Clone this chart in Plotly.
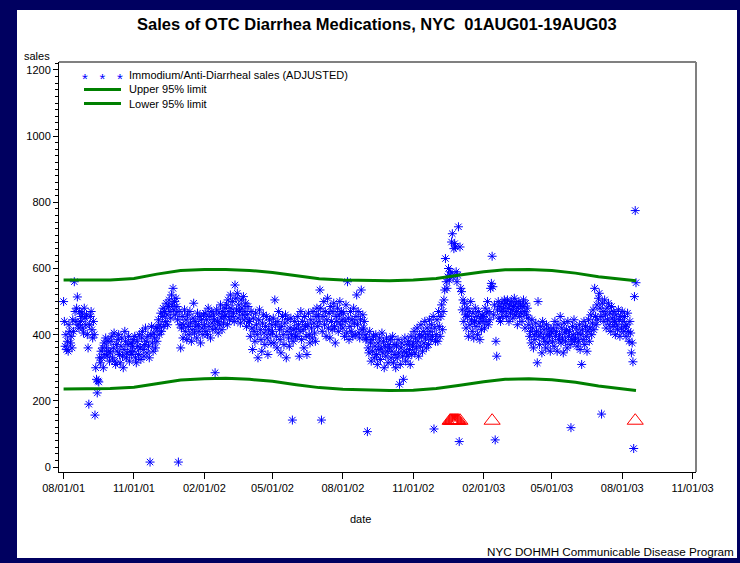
import pandas as pd
import plotly.graph_objects as go

# ---------------- data (daily adjusted sales) ----------------
aug01 = [500, 440, 365, 400, 355, 380, 350, 430, 410, 375, 395, 360, 445, 410, 560, 470, 440, 480, 514, 430, 420, 470, 440, 455, 465, 420, 405, 480, 450, 430, 460]
sep01 = [400, 360, 190, 430, 455, 470, 415, 390, 440, 400, 157, 300, 265, 224, 260, 257, 330, 315, 350, 330, 360, 300, 375, 340, 390, 360, 335, 380, 350, 320]
oct01 = [345, 380, 395, 330, 360, 405, 320, 310, 370, 350, 385, 400, 340, 315, 365, 390, 335, 300, 355, 410, 380, 330, 345, 370, 395, 320, 350, 375, 340, 365, 385]
nov01 = [350, 395, 330, 315, 380, 365, 340, 400, 360, 325, 390, 410, 355, 335, 370, 420, 380, 345, 395, 365, 330, 15, 400, 425, 375, 350, 405, 390, 360, 420]
dec01 = [380, 420, 445, 400, 430, 465, 410, 455, 480, 425, 470, 440, 495, 460, 430, 485, 505, 470, 450, 520, 490, 540, 475, 500, 460, 510, 485, 445, 15, 470, 430]
jan02 = [360, 420, 455, 390, 430, 475, 410, 445, 385, 460, 425, 400, 470, 435, 380, 415, 450, 495, 405, 440, 425, 390, 465, 430, 410, 455, 375, 445, 420, 400, 460]
feb02 = [430, 465, 410, 445, 400, 480, 425, 455, 390, 470, 435, 415, 460, 445, 285, 420, 475, 440, 405, 465, 430, 490, 450, 415, 470, 435, 455, 480]
mar02 = [460, 490, 430, 505, 470, 445, 520, 480, 455, 500, 465, 440, 550, 510, 475, 525, 450, 490, 470, 435, 505, 480, 460, 515, 445, 470, 495, 425, 460, 485, 440]
apr02 = [440, 395, 470, 420, 355, 450, 410, 380, 465, 430, 400, 330, 445, 475, 415, 385, 350, 435, 460, 405, 370, 425, 455, 390, 340, 415, 445, 400, 375, 430]
may02 = [410, 450, 375, 505, 430, 395, 360, 440, 470, 415, 385, 345, 425, 455, 400, 370, 435, 460, 330, 410, 445, 390, 365, 420, 450, 400, 142, 380, 415, 440, 395]
jun02 = [420, 395, 455, 430, 335, 410, 470, 385, 440, 415, 360, 455, 425, 395, 340, 430, 465, 400, 375, 445, 420, 390, 470, 435, 405, 380, 455, 480, 425, 460]
jul02 = [440, 535, 480, 142, 410, 455, 500, 430, 470, 395, 445, 510, 420, 465, 390, 485, 440, 415, 470, 495, 425, 375, 455, 440, 480, 410, 460, 500, 430, 470, 445]
aug02 = [420, 465, 395, 440, 490, 405, 560, 450, 385, 425, 470, 410, 445, 395, 480, 435, 400, 455, 520, 430, 470, 405, 390, 445, 535, 415, 460, 420, 440, 400, 385]
sep02 = [390, 107, 360, 345, 410, 375, 320, 385, 350, 395, 330, 365, 400, 340, 310, 375, 355, 390, 325, 360, 405, 345, 380, 300, 365, 335, 390, 350, 315, 370]
oct02 = [360, 385, 330, 350, 395, 315, 370, 340, 300, 365, 330, 385, 345, 250, 310, 360, 375, 335, 265, 350, 390, 320, 345, 370, 335, 380, 355, 310, 395, 340, 365]
nov02 = [375, 410, 345, 390, 360, 420, 380, 335, 400, 365, 430, 395, 350, 410, 375, 440, 390, 360, 420, 400, 370, 445, 410, 385, 430, 395, 455, 115, 420, 380]
dec02 = [400, 445, 380, 470, 425, 395, 455, 490, 415, 470, 505, 535, 630, 560, 540, 575, 600, 565, 580, 590, 680, 705, 575, 660, 675, 665, 590, 560, 580, 726, 77]
jan03 = [665, 540, 530, 475, 505, 440, 495, 460, 420, 480, 455, 395, 470, 430, 500, 445, 410, 465, 390, 440, 480, 425, 455, 400, 470, 435, 385, 450, 415, 460, 440]
feb03 = [455, 420, 480, 440, 465, 500, 430, 470, 445, 540, 555, 637, 545, 460, 490, 82, 380, 335, 475, 500, 450, 485, 440, 470, 495, 455, 480, 505]
mar03 = [470, 495, 455, 505, 480, 440, 490, 465, 500, 475, 450, 485, 510, 460, 495, 470, 430, 480, 500, 455, 490, 465, 440, 485, 505, 470, 420, 495, 460, 480, 450]
apr03 = [430, 395, 410, 375, 445, 420, 360, 400, 385, 435, 410, 315, 500, 395, 370, 425, 405, 345, 440, 390, 415, 380, 360, 430, 400, 375, 420, 395, 350, 410]
may03 = [405, 380, 420, 365, 440, 395, 410, 350, 430, 385, 400, 455, 375, 420, 390, 345, 435, 405, 380, 415, 360, 440, 395, 410, 370, 119, 385, 425, 400, 445, 380]
jun03 = [390, 420, 365, 405, 380, 430, 355, 400, 310, 415, 385, 440, 370, 425, 395, 350, 410, 445, 380, 420, 460, 400, 435, 475, 415, 540, 455, 430, 490, 445]
jul03 = [510, 525, 480, 455, 160, 495, 470, 440, 505, 460, 420, 480, 445, 495, 430, 465, 410, 485, 450, 425, 470, 440, 400, 460, 430, 415, 475, 445, 395, 455, 420]
aug03 = [470, 440, 410, 455, 425, 395, 430, 465, 410, 380, 440, 405, 345, 375, 318, 56, 515, 775, 557]

months = ["2001-08-01", "2001-09-01", "2001-10-01", "2001-11-01", "2001-12-01",
          "2002-01-01", "2002-02-01", "2002-03-01", "2002-04-01", "2002-05-01", "2002-06-01",
          "2002-07-01", "2002-08-01", "2002-09-01", "2002-10-01", "2002-11-01", "2002-12-01",
          "2003-01-01", "2003-02-01", "2003-03-01", "2003-04-01", "2003-05-01", "2003-06-01",
          "2003-07-01", "2003-08-01"]
monthly_sales = [aug01, sep01, oct01, nov01, dec01, jan02, feb02, mar02, apr02, may02, jun02, jul02,
                 aug02, sep02, oct02, nov02, dec02, jan03, feb03, mar03, apr03, may03, jun03, jul03, aug03]

# 95% limits (seasonal band), read at month starts plus the last day
limit_dates = months + ["2003-08-19"]
upper_limit = [565, 565, 565, 570, 583, 594, 597, 597, 594, 588, 578, 569, 565, 564, 563, 565, 570,
               580, 590, 596, 597, 594, 586, 575, 566, 563]
lower_limit = [236, 236, 237, 241, 252, 263, 267, 268, 265, 259, 249, 240, 235, 233, 231, 232, 237,
               247, 258, 265, 267, 264, 256, 245, 236, 231]

# alert flags (red triangles)
alert_dates = ["2002-12-19", "2002-12-20", "2002-12-21", "2002-12-22", "2002-12-23", "2002-12-24",
               "2002-12-25", "2002-12-26", "2002-12-27", "2002-12-28", "2002-12-29", "2002-12-30",
               "2003-01-01", "2003-02-12", "2003-08-18"]
alert_level = [140] * len(alert_dates)

tick_dates = ["2001-08-01", "2001-11-01", "2002-02-01", "2002-05-01", "2002-08-01", "2002-11-01",
              "2003-02-01", "2003-05-01", "2003-08-01", "2003-11-01"]
tick_labels = ["08/01/01", "11/01/01", "02/01/02", "05/01/02", "08/01/02", "11/01/02",
               "02/01/03", "05/01/03", "08/01/03", "11/01/03"]
y_ticks = [0, 200, 400, 600, 800, 1000, 1200]

legend_labels = ["Immodium/Anti-Diarrheal sales (ADJUSTED)", "Upper 95% limit", "Lower 95% limit"]

# ---------------- build ----------------
dates, sales = [], []
for m, vals in zip(months, monthly_sales):
    dates.extend(pd.date_range(m, periods=len(vals), freq="D"))
    sales.extend(vals)

FONT = "Liberation Sans, Arial, sans-serif"
NAVY = "#000060"
BLUE = "#0000ff"
GREEN = "#008000"

fig = go.Figure()
fig.add_trace(go.Scatter(
    x=dates, y=sales, mode="markers", name=legend_labels[0],
    marker=dict(symbol="asterisk-open", size=7.5, color=BLUE, line=dict(width=1, color=BLUE)),
))
fig.add_trace(go.Scatter(
    x=pd.to_datetime(limit_dates), y=upper_limit, mode="lines", name=legend_labels[1],
    line=dict(color=GREEN, width=3),
))
fig.add_trace(go.Scatter(
    x=pd.to_datetime(limit_dates), y=lower_limit, mode="lines", name=legend_labels[2],
    line=dict(color=GREEN, width=3),
))
fig.add_trace(go.Scatter(
    x=pd.to_datetime(alert_dates), y=alert_level, mode="markers", name="alert",
    marker=dict(symbol="triangle-up-open", size=14, color="#ff0000", line=dict(width=1, color="#ff0000")),
))

L, R, T, B = 59, 44, 62, 91
W, H = 740, 563
pw, ph = W - L - R, H - T - B

def px(x):
    return (x - L) / pw

def py(y):
    return (H - B - y) / ph

# hand-drawn legend in the SAS style (compact rows)
leg_rows = [75, 89.5, 103.5]
leg_shapes = [
    dict(type="line", xref="paper", yref="paper", x0=px(84), x1=px(121), y0=py(r), y1=py(r),
         line=dict(color=GREEN, width=3))
    for r in leg_rows[1:]
]
leg_annots = [
    dict(text=t, xref="paper", yref="paper", x=px(127), y=py(r), xanchor="left", yanchor="middle",
         showarrow=False, font=dict(size=11, color="black"))
    for t, r in zip(legend_labels, leg_rows)
]
leg_annots.append(
    dict(text="*\u2002 *\u2002 *", xref="paper", yref="paper", x=px(102.5), y=py(leg_rows[0] + 3),
         xanchor="center", yanchor="middle", showarrow=False, font=dict(size=15, color=BLUE))
)

fig.update_layout(
    width=W, height=H,
    margin=dict(l=L, r=R, t=T, b=B, pad=0),
    paper_bgcolor=NAVY,
    plot_bgcolor="rgba(0,0,0,0)",
    font=dict(family=FONT, size=11, color="black"),
    showlegend=False,
    xaxis=dict(
        type="date", range=["2001-07-26", "2003-11-05 10:00"],
        tickvals=pd.to_datetime(tick_dates), ticktext=tick_labels,
        ticks="outside", ticklen=6, tickcolor="black", tickwidth=1,
        showline=True, linecolor="black", linewidth=1, mirror=False,
        showgrid=False, zeroline=False,
        tickfont=dict(size=11, color="black"),
    ),
    yaxis=dict(
        range=[-15, 1224], tickvals=y_ticks,
        ticks="outside", ticklen=5, tickcolor="black", tickwidth=1,
        minor=dict(dtick=20, tick0=0, ticks="outside", ticklen=3, tickcolor="black", showgrid=False),
        showline=True, linecolor="black", linewidth=1, mirror=False,
        showgrid=False, zeroline=False,
        tickfont=dict(size=11, color="black"),
    ),
    shapes=[
        dict(type="rect", xref="paper", yref="paper", x0=px(17), x1=px(737), y0=py(558), y1=py(10),
             fillcolor="white", line=dict(width=0), layer="below"),
        dict(type="line", xref="paper", yref="paper", x0=0, x1=1, y0=1, y1=1,
             line=dict(color="#808080", width=2), layer="below"),
        dict(type="line", xref="paper", yref="paper", x0=1, x1=1, y0=0, y1=1,
             line=dict(color="#808080", width=2), layer="below"),
    ] + leg_shapes,
    annotations=[
        dict(text="<b>Sales of OTC Diarrhea Medications, NYC \u00a001AUG01-19AUG03</b>", xref="paper", yref="paper",
             x=px(377), y=py(24), xanchor="center", yanchor="middle", showarrow=False,
             font=dict(size=16.5, color="black")),
        dict(text="sales", xref="paper", yref="paper", x=px(37), y=py(56), xanchor="center", yanchor="middle",
             showarrow=False, font=dict(size=11, color="black")),
        dict(text="date", xref="paper", yref="paper", x=px(360), y=py(519), xanchor="center", yanchor="middle",
             showarrow=False, font=dict(size=11, color="black")),
        dict(text="NYC DOHMH Communicable Disease Program", xref="paper", yref="paper", x=px(736), y=py(551),
             xanchor="right", yanchor="middle", showarrow=False, font=dict(size=11.7, color="black")),
    ] + leg_annots,
)

fig.write_html(
    "out.html",
    config={"displayModeBar": False},
    post_script="document.body.style.margin='0px';document.body.style.padding='0px';"
                "document.body.style.background='" + NAVY + "';",
)
